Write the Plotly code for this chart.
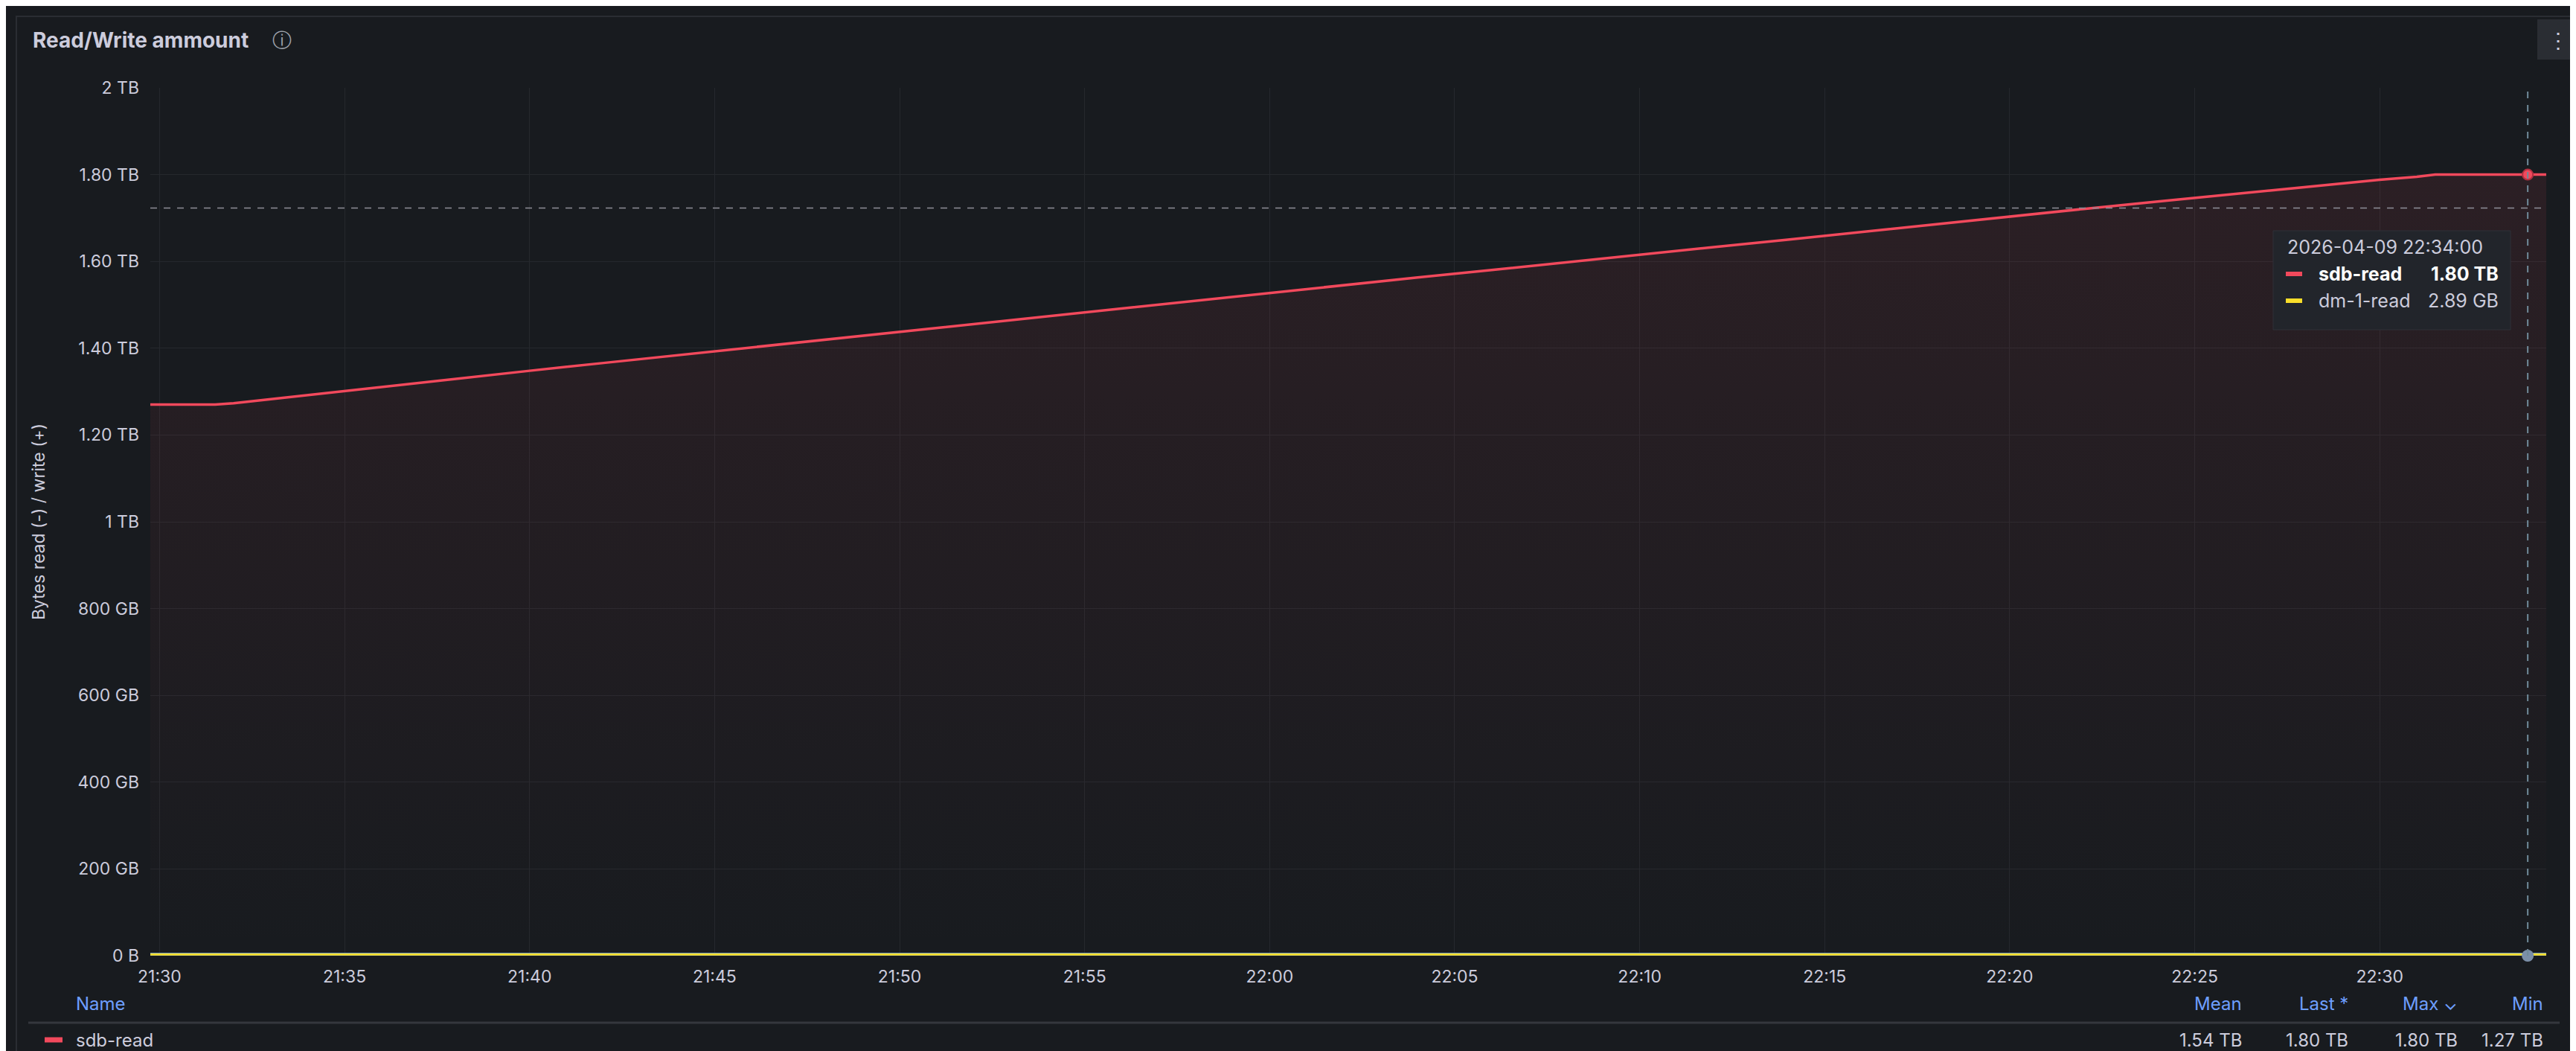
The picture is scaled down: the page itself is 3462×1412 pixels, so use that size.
import plotly.graph_objects as go
from datetime import datetime

# ---- data ----
sdb_times = ["21:29:45","21:30:00","21:31:30","21:32:00","21:34:00","21:36:00","21:38:00","21:40:00",
             "21:42:00","21:44:00","21:46:00","21:48:00","21:50:00","21:52:00","21:54:00","21:56:00",
             "21:58:00","22:00:00","22:02:00","22:04:00","22:06:00","22:08:00","22:10:00","22:12:00",
             "22:14:00","22:16:00","22:18:00","22:20:00","22:22:00","22:24:00","22:26:00","22:28:00",
             "22:30:00","22:31:00","22:31:30","22:34:30"]
sdb_tb = [1.270,1.270,1.270,1.273,1.292,1.310,1.329,1.348,
          1.366,1.384,1.402,1.420,1.438,1.456,1.474,1.492,
          1.510,1.528,1.545,1.563,1.580,1.598,1.615,1.633,
          1.650,1.668,1.685,1.703,1.721,1.738,1.755,1.772,
          1.788,1.795,1.800,1.800]
flat_times = ["21:29:45","22:34:30"]
dm1_tb = [0.00289,0.00289]
other_tb = [0.0,0.0]
ytick_vals = [0,0.2,0.4,0.6,0.8,1.0,1.2,1.4,1.6,1.8,2.0]
ytick_text = ["0 B","200 GB","400 GB","600 GB","800 GB","1 TB","1.20 TB","1.40 TB","1.60 TB","1.80 TB","2 TB"]
cursor_time = "22:34:00"
cross_tb = 1.723
legend_cols = ["Mean","Last *","Max ⌄","Min"]
legend_vals = ["1.54 TB","1.80 TB","1.80 TB","1.27 TB"]
tip_rows = [("sdb-read","1.80 TB","#F2495C",True),("dm-1-read","2.89 GB","#FADE2A",False)]

def T(s):
    return datetime.strptime("2026-04-09 " + s, "%Y-%m-%d %H:%M:%S")

W, H = 3462, 1412
L, R, TOP, BOT = 194, 3414, 110, 1276
def px(x): return (x - L) / (R - L)
def py(y): return (BOT - y) / (BOT - TOP)

BG = "#181b1f"
TXT = "#ccccdc"
FONT = "Inter"

fig = go.Figure()
fig.add_trace(go.Scatter(x=[T(t) for t in flat_times], y=other_tb, mode="lines", cliponaxis=False,
                         line=dict(color="#5794F2", width=8), hoverinfo="skip"))
fig.add_trace(go.Scatter(x=[T(t) for t in flat_times], y=dm1_tb, mode="lines", cliponaxis=False,
                         line=dict(color="#FADE2A", width=3), hoverinfo="skip"))
fig.add_trace(go.Scatter(x=[T(t) for t in sdb_times], y=sdb_tb, mode="lines",
                         line=dict(color="#F2495C", width=3.5), fill="tozeroy",
                         fillgradient=dict(type="vertical",
                                           colorscale=[[0, "rgba(242,73,92,0.0)"], [1, "rgba(242,73,92,0.09)"]]),
                         hoverinfo="skip"))
fig.add_trace(go.Scatter(x=[T(cursor_time)], y=[sdb_tb[-1]], mode="markers", cliponaxis=False,
                         marker=dict(color="#F2495C", size=14, line=dict(color="#b03040", width=2))))
fig.add_trace(go.Scatter(x=[T(cursor_time)], y=[other_tb[-1]], mode="markers", cliponaxis=False,
                         marker=dict(color="#7b8fa8", size=16)))

shapes = [
    dict(type="rect", xref="paper", yref="paper", x0=px(14), x1=px(3456), y0=py(14), y1=py(1410),
         line=dict(color="#2a2d33", width=2), fillcolor="rgba(0,0,0,0)", layer="below"),
    dict(type="line", xref="x", yref="paper", x0=T(cursor_time), x1=T(cursor_time), y0=0, y1=1,
         line=dict(color="#6f8a99", width=2, dash="dash")),
    dict(type="line", xref="paper", yref="y", x0=0, x1=1, y0=cross_tb, y1=cross_tb,
         line=dict(color="#8e8e98", width=1.5, dash="dash")),
    dict(type="rect", xref="paper", yref="paper", x0=px(3047), x1=px(3366), y0=py(302), y1=py(435),
         fillcolor="#22252b", line=dict(color="#2e3138", width=1)),
    dict(type="rect", xref="paper", yref="paper", x0=px(3402), x1=px(3450), y0=py(18), y1=py(72),
         fillcolor="#2a2d33", line=dict(width=0)),
    dict(type="line", xref="paper", yref="paper", x0=px(30), x1=px(3432), y0=py(1366), y1=py(1366),
         line=dict(color="#34373d", width=3)),
]
for i, (nm, v, c, b) in enumerate(tip_rows):
    yy = 360 + i * 36
    shapes.append(dict(type="line", xref="paper", yref="paper", x0=px(3064), x1=px(3086), y0=py(yy), y1=py(yy),
                       line=dict(color=c, width=6)))
shapes.append(dict(type="line", xref="paper", yref="paper", x0=px(52), x1=px(76), y0=py(1389), y1=py(1389),
                   line=dict(color="#F2495C", width=7)))

ann = [
    dict(x=px(34), y=py(46), text="<b>Read/Write ammount</b>", font=dict(size=28, color=TXT)),
    dict(x=px(356), y=py(46), text="ⓘ", font=dict(size=26, color="#9fa3ad")),
    dict(x=px(3414), y=py(46), text="⋮", font=dict(size=28, color=TXT)),
    dict(x=px(44), y=0.5, text="Bytes read (-) / write (+)", textangle=-90, xanchor="center",
         font=dict(size=23, color=TXT)),
    dict(x=px(3064), y=py(324), text="2026-04-09 22:34:00", font=dict(size=25, color=TXT)),
    dict(x=px(92), y=py(1340), text="Name", font=dict(size=24, color="#6e9fff")),
    dict(x=px(92), y=py(1389), text="sdb-read", font=dict(size=24, color=TXT)),
]
for i, (nm, v, c, b) in enumerate(tip_rows):
    yy = 360 + i * 36
    ann.append(dict(x=px(3106), y=py(yy), text=f"<b>{nm}</b>" if b else nm,
                    font=dict(size=25, color="#ffffff" if b else TXT)))
    ann.append(dict(x=px(3352), y=py(yy), text=f"<b>{v}</b>" if b else v, xanchor="right",
                    font=dict(size=25, color="#ffffff" if b else TXT)))
col_right = [3007, 3150, 3297, 3412]
for c, lab, v in zip(col_right, legend_cols, legend_vals):
    ann.append(dict(x=px(c), y=py(1340), text=lab, xanchor="right", font=dict(size=24, color="#6e9fff")))
    ann.append(dict(x=px(c), y=py(1389), text=v, xanchor="right", font=dict(size=24, color=TXT)))
for a in ann:
    a.setdefault("xanchor", "left")
    a.update(xref="paper", yref="paper", yanchor="middle", showarrow=False)

fig.update_layout(
    width=W, height=H, margin=dict(l=L, r=W - R, t=TOP, b=H - BOT),
    paper_bgcolor=BG, plot_bgcolor=BG, showlegend=False,
    font=dict(family=FONT, color=TXT, size=23),
    shapes=shapes, annotations=ann,
    xaxis=dict(range=[T("21:29:45"), T("22:34:30")], showgrid=True, gridcolor="#25282d",
               tickformat="%H:%M", dtick=300000, tick0=T("21:30:00"), zeroline=False,
               showline=False, ticks="", ticklabelstandoff=12, tickfont=dict(size=23, color=TXT)),
    yaxis=dict(range=[0, 2.0], tickvals=ytick_vals, ticktext=ytick_text, showgrid=True,
               gridcolor="#25282d", zeroline=False, ticks="", ticklabelstandoff=14,
               tickfont=dict(size=23, color=TXT)),
)
fig.write_html("out.html")
